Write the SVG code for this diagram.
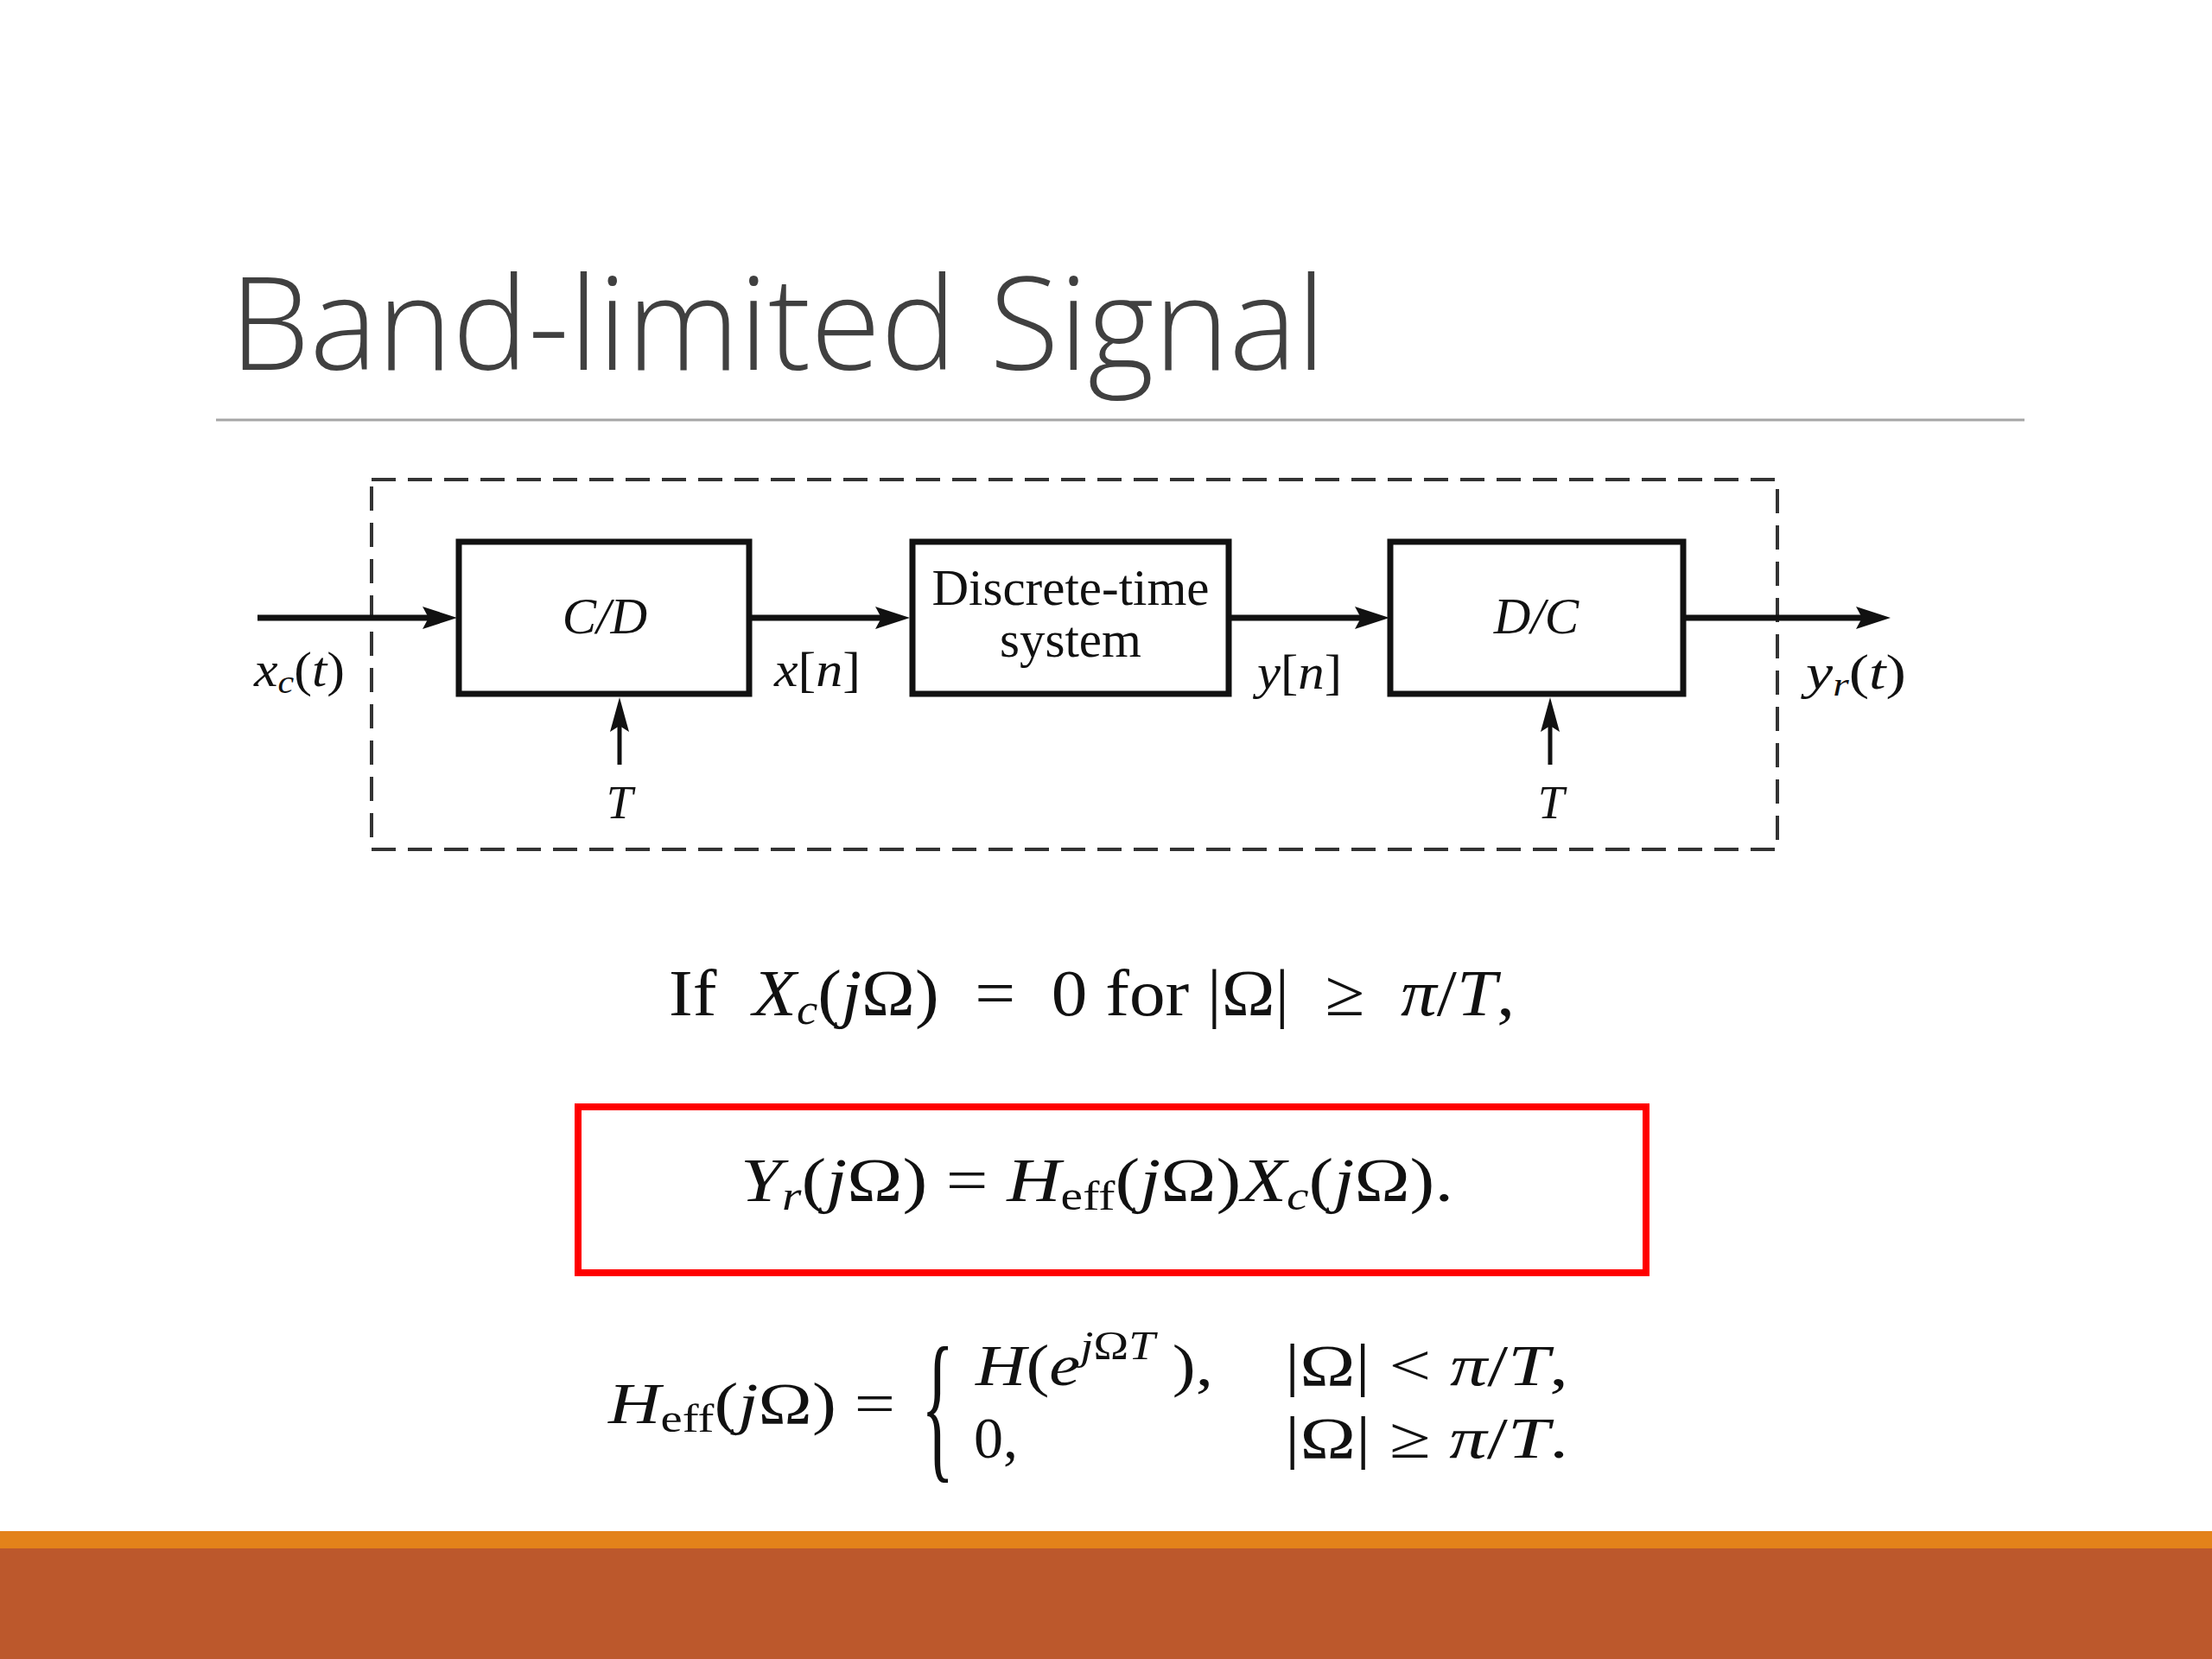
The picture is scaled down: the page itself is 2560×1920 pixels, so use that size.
<svg xmlns="http://www.w3.org/2000/svg" width="2560" height="1920" viewBox="0 0 2560 1920">
<style>
.title{font-family:"Open Sans","Liberation Sans",sans-serif;font-weight:300;font-size:150px;fill:#404040}
.m{font-family:"Liberation Serif","Times New Roman",serif;fill:#111}
.i{font-style:italic}
.box{fill:#fff;stroke:#111;stroke-width:7}
.wire{stroke:#111;stroke-width:7;fill:none}
.tw{stroke:#111;stroke-width:5;fill:none}
</style>
<defs>
<marker id="ah" markerWidth="40" markerHeight="26" refX="24" refY="13" orient="auto" markerUnits="userSpaceOnUse">
<path d="M0,0 L40,13 L0,26 L7,13 z" fill="#111"/>
</marker>
<marker id="ahv" markerWidth="40" markerHeight="22" refX="24" refY="11" orient="auto" markerUnits="userSpaceOnUse">
<path d="M0,0 L40,11 L0,22 L7,11 z" fill="#111"/>
</marker>
</defs>
<rect width="2560" height="1920" fill="#fff"/>
<g id="title">
<text class="title" x="266" y="428" textLength="1268" lengthAdjust="spacingAndGlyphs">Band-limited Signal</text>
<line x1="250" y1="486" x2="2343" y2="486" stroke="#a6a6a6" stroke-width="3"/>
</g>
<g id="frame">
<rect x="430" y="555" width="1627" height="428" fill="none" stroke="#333" stroke-width="4" stroke-dasharray="28 14"/>
</g>
<g id="connectors">
<line class="wire" x1="298" y1="715" x2="513" y2="715" marker-end="url(#ah)"/>
<line class="wire" x1="867" y1="715" x2="1037" y2="715" marker-end="url(#ah)"/>
<line class="wire" x1="1422" y1="715" x2="1592" y2="715" marker-end="url(#ah)"/>
<line class="wire" x1="1948" y1="715" x2="2172" y2="715" marker-end="url(#ah)"/>
<line class="tw" x1="717" y1="885" x2="717" y2="823" marker-end="url(#ahv)"/>
<line class="tw" x1="1794" y1="885" x2="1794" y2="823" marker-end="url(#ahv)"/>
</g>
<g id="node-cd">
<rect class="box" x="531" y="627" width="336" height="176"/>
<text class="m i" x="700" y="733" font-size="59" text-anchor="middle">C/D</text>
</g>
<g id="node-dts">
<rect class="box" x="1056" y="627" width="366" height="176"/>
<text class="m" x="1239" y="700" font-size="59" text-anchor="middle">Discrete-time</text>
<text class="m" x="1239" y="760" font-size="59" text-anchor="middle">system</text>
</g>
<g id="node-dc">
<rect class="box" x="1609" y="627" width="339" height="176"/>
<text class="m i" x="1778" y="733" font-size="59" text-anchor="middle">D/C</text>
</g>
<g id="labels">
<text class="m" x="294" y="794" font-size="56" textLength="105" lengthAdjust="spacingAndGlyphs"><tspan class="i">x</tspan><tspan class="i" font-size="38" dy="8">c</tspan><tspan dy="-8">(</tspan><tspan class="i">t</tspan>)</text>
<text class="m" x="896" y="794" font-size="56" textLength="100" lengthAdjust="spacingAndGlyphs"><tspan class="i">x</tspan>[<tspan class="i">n</tspan>]</text>
<text class="m" x="1455" y="797" font-size="56" textLength="98" lengthAdjust="spacingAndGlyphs"><tspan class="i">y</tspan>[<tspan class="i">n</tspan>]</text>
<text class="m" x="2090" y="797" font-size="56" textLength="116" lengthAdjust="spacingAndGlyphs"><tspan class="i">y</tspan><tspan class="i" font-size="38" dy="8">r</tspan><tspan dy="-8">(</tspan><tspan class="i">t</tspan>)</text>
<text class="m i" x="717" y="947" font-size="55" text-anchor="middle">T</text>
<text class="m i" x="1795" y="947" font-size="55" text-anchor="middle">T</text>
</g>
<g id="eq-condition">
<text class="m" x="774" y="1175" font-size="76" xml:space="preserve" textLength="979" lengthAdjust="spacingAndGlyphs">If  <tspan class="i">X</tspan><tspan class="i" font-size="50" dy="10">c</tspan><tspan dy="-10">(</tspan><tspan class="i">j</tspan>Ω)  =  0 for |Ω|  ≥  <tspan class="i">π</tspan>/<tspan class="i">T</tspan>,</text>
</g>
<g id="eq-boxed">
<rect x="669" y="1281" width="1236" height="192" fill="none" stroke="#ff0000" stroke-width="8"/>
<text class="m" x="857" y="1390" font-size="72" xml:space="preserve" textLength="825" lengthAdjust="spacingAndGlyphs"><tspan class="i">Y</tspan><tspan class="i" font-size="48" dy="10">r</tspan><tspan dy="-10">(</tspan><tspan class="i">j</tspan>Ω) = <tspan class="i">H</tspan><tspan font-size="48" dy="10">eff</tspan><tspan dy="-10">(</tspan><tspan class="i">j</tspan>Ω)<tspan class="i">X</tspan><tspan class="i" font-size="48" dy="10">c</tspan><tspan dy="-10">(</tspan><tspan class="i">j</tspan>Ω).</text>
</g>
<g id="eq-heff">
<text class="m" x="704" y="1647" font-size="68" xml:space="preserve" textLength="332" lengthAdjust="spacingAndGlyphs"><tspan class="i">H</tspan><tspan font-size="46" dy="10">eff</tspan><tspan dy="-10">(</tspan><tspan class="i">j</tspan>Ω) =</text>
<text class="m" transform="translate(1066,1690) scale(0.42,1)" font-size="190">{</text>
<text class="m" x="1129" y="1603" font-size="68" textLength="275" lengthAdjust="spacingAndGlyphs"><tspan class="i">H</tspan>(<tspan class="i">e</tspan><tspan font-size="46" dy="-30"><tspan class="i">j</tspan>Ω<tspan class="i">T</tspan></tspan><tspan dy="30"> ),</tspan></text>
<text class="m" x="1487" y="1603" font-size="68" xml:space="preserve" textLength="328" lengthAdjust="spacingAndGlyphs">|Ω| &lt; <tspan class="i">π</tspan>/<tspan class="i">T</tspan>,</text>
<text class="m" x="1127" y="1687" font-size="68">0,</text>
<text class="m" x="1487" y="1687" font-size="68" xml:space="preserve" textLength="328" lengthAdjust="spacingAndGlyphs">|Ω| ≥ <tspan class="i">π</tspan>/<tspan class="i">T</tspan>.</text>
</g>
<g id="footer">
<rect x="0" y="1772" width="2560" height="20" fill="#e3821a"/>
<rect x="0" y="1792" width="2560" height="128" fill="#bc582c"/>
</g>
</svg>
